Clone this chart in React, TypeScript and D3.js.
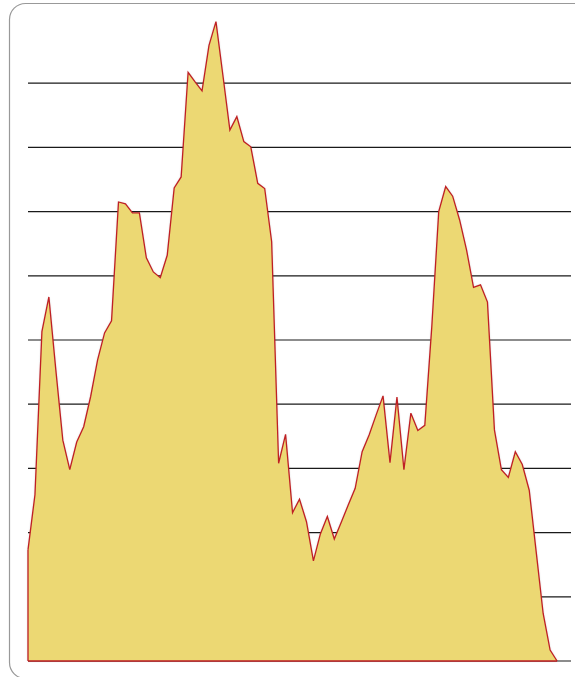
import * as React from "react"
import * as d3 from "d3"

// one value per step
const values = [
  17.3, 25.9, 51.3, 56.7, 45.3, 34.4, 29.8, 34.1, 36.5, 41.2,
  46.9, 51.1, 53.0, 71.5, 71.2, 69.8, 69.8, 62.8, 60.6, 59.7,
  63.2, 73.7, 75.4, 91.7, 90.2, 88.8, 95.9, 99.6, 91.2, 82.7,
  84.8, 80.9, 80.1, 74.4, 73.6, 65.3, 30.8, 35.3, 23.1, 25.2,
  21.7, 15.6, 19.8, 22.5, 19.0, 21.6, 24.3, 26.9, 32.6, 35.2,
  38.3, 41.3, 30.9, 41.1, 29.8, 38.6, 35.9, 36.7, 52.0, 70.0,
  73.9, 72.4, 68.7, 64.0, 58.2, 58.6, 55.9, 36.0, 29.8, 28.6,
  32.6, 30.6, 26.6, 17.0, 7.4, 1.7, 0,
]

const yTicks = [0, 10, 20, 30, 40, 50, 60, 70, 80, 90]

const width = 575
const height = 677
const margin = { top: 19, right: 4, bottom: 16, left: 28 }

export default function App() {
  const innerRight = width - margin.right
  const baseline = height - margin.bottom

  const x = d3.scaleLinear().domain([0, 78]).range([margin.left, innerRight])
  const y = d3.scaleLinear().domain([0, 100]).range([baseline, margin.top])

  const area = d3
    .area<number>()
    .x((_, i) => x(i))
    .y0(y(0))
    .y1((d) => y(d))

  const line = d3
    .line<number>()
    .x((_, i) => x(i))
    .y((d) => y(d))

  return (
    <div style={{ position: "absolute", left: 0, top: 0 }}>
      <svg width={width} height={height} style={{ display: "block" }}>
        <defs>
          <filter id="soft" x="-5%" y="-5%" width="110%" height="110%">
            <feDropShadow dx="0" dy="0" stdDeviation="1.2" floodColor="#000" floodOpacity="0.25" />
          </filter>
        </defs>
        {/* card border, runs off the right and bottom */}
        <rect
          x={9.5}
          y={3.5}
          width={620}
          height={675}
          rx={16}
          fill="#fff"
          stroke="#999"
          strokeWidth={1.2}
        />
        {yTicks.map((t) => (
          <line
            key={t}
            x1={margin.left}
            x2={innerRight}
            y1={y(t)}
            y2={y(t)}
            stroke="#1a1a1a"
            strokeWidth={1.2}
          />
        ))}
        <path d={area(values) ?? ""} fill="#ecd873" filter="url(#soft)" />
        <path
          d={line(values) ?? ""}
          fill="none"
          stroke="#bf1f24"
          strokeWidth={1.3}
          strokeLinejoin="miter"
        />
        <line
          x1={x(0)}
          x2={x(values.length - 1)}
          y1={y(0)}
          y2={y(0)}
          stroke="#bf1f24"
          strokeWidth={1.3}
        />
        <line x1={x(0)} x2={x(0)} y1={y(0)} y2={y(values[0])} stroke="#bf1f24" strokeWidth={1.3} />
      </svg>
    </div>
  )
}
